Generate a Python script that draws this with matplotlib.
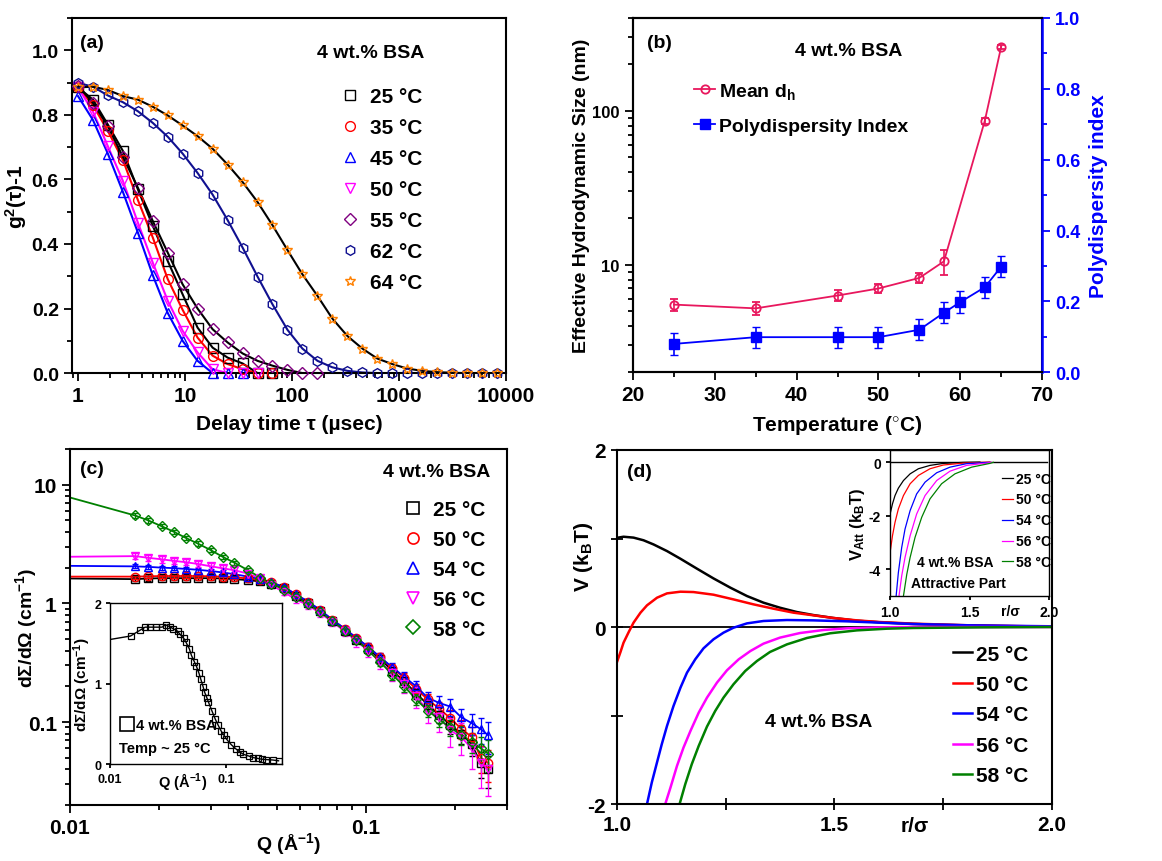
import matplotlib
matplotlib.use('Agg')
import matplotlib.pyplot as plt
from matplotlib.ticker import FixedLocator, FixedFormatter, NullFormatter, MultipleLocator, LogLocator
from matplotlib.lines import Line2D

plt.rcParams['font.family'] = ['Liberation Sans', 'DejaVu Sans']
plt.rcParams['font.weight'] = 'bold'
plt.rcParams['axes.labelweight'] = 'bold'
plt.rcParams['mathtext.fontset'] = 'custom'
plt.rcParams['mathtext.rm'] = 'Liberation Sans:bold'
plt.rcParams['mathtext.it'] = 'Liberation Sans:bold'
plt.rcParams['mathtext.bf'] = 'Liberation Sans:bold'
plt.rcParams['mathtext.default'] = 'rm'
plt.rcParams['axes.linewidth'] = 1.5

# ---------------- (a) DLS correlation functions ----------------
tau = [1, 1.38, 1.9, 2.63, 3.63, 5.0, 6.9, 9.5, 13.1, 18.1, 25, 34.5, 47.6, 65.7, 90.7,
       125, 173, 238, 329, 454, 627, 865, 1194, 1648, 2274, 3139, 4332, 5979, 8251]
g2_25 = [0.885, 0.847, 0.77, 0.688, 0.569, 0.456, 0.347, 0.244, 0.141, 0.079, 0.048, 0.03, 0.0, 0.0]
g2_35 = [0.885, 0.83, 0.75, 0.66, 0.536, 0.42, 0.291, 0.196, 0.11, 0.054, 0.028, 0.012, 0.0, 0.0]
g2_45 = [0.858, 0.784, 0.68, 0.561, 0.435, 0.303, 0.186, 0.1, 0.038, 0.0, 0.0, 0.0]
g2_50 = [0.885, 0.81, 0.703, 0.595, 0.466, 0.342, 0.224, 0.131, 0.064, 0.012, 0.0, 0.0, 0.0]
g2_55 = [0.89, 0.837, 0.765, 0.67, 0.574, 0.471, 0.373, 0.275, 0.2, 0.136, 0.095, 0.061,
         0.038, 0.023, 0.01, 0.0, 0.0]
g2_62 = [0.899, 0.887, 0.86, 0.839, 0.811, 0.775, 0.732, 0.68, 0.62, 0.553, 0.474, 0.389,
         0.299, 0.213, 0.134, 0.076, 0.038, 0.018, 0.007, 0.002, 0, 0, 0, 0, 0, 0, 0, 0, 0]
g2_64 = [0.885, 0.887, 0.877, 0.858, 0.847, 0.825, 0.798, 0.767, 0.734, 0.695, 0.646, 0.592,
         0.53, 0.458, 0.381, 0.306, 0.239, 0.169, 0.115, 0.076, 0.045, 0.028, 0.014, 0.007,
         0.003, 0.001, 0.0, 0.0, 0.0]
labels_a = ['25 °C', '35 °C', '45 °C', '50 °C', '55 °C', '62 °C', '64 °C']

# ---------------- (b) size and PDI vs temperature ----------------
temp_dh = [25, 35, 45, 50, 55, 58, 63, 65]
dh = [5.5, 5.2, 6.3, 7.0, 8.2, 10.5, 86, 260]
dh_err = [0.5, 0.5, 0.5, 0.5, 0.6, 2.0, 4, 8]
temp_pdi = [25, 35, 45, 50, 55, 58, 60, 63, 65]
pdi = [0.08, 0.099, 0.099, 0.099, 0.12, 0.168, 0.198, 0.24, 0.298]
pdi_err = [0.03, 0.03, 0.03, 0.03, 0.03, 0.03, 0.03, 0.03, 0.03]

# ---------------- (c) SANS ----------------
Q = [0.0166, 0.0184, 0.0204, 0.0225, 0.0247, 0.027, 0.03, 0.033, 0.036, 0.04, 0.044, 0.048,
     0.053, 0.058, 0.064, 0.07, 0.077, 0.085, 0.093, 0.102, 0.112, 0.123, 0.135, 0.148,
     0.162, 0.177, 0.193, 0.21, 0.228, 0.245, 0.26]
I_25 = [1.6, 1.62, 1.63, 1.63, 1.63, 1.63, 1.63, 1.62, 1.6, 1.57, 1.53, 1.46, 1.34, 1.16,
        1.0, 0.86, 0.71, 0.59, 0.49, 0.41, 0.34, 0.27, 0.22, 0.175, 0.14, 0.115, 0.095,
        0.08, 0.065, 0.045, 0.04]
I_50 = [1.68, 1.69, 1.7, 1.7, 1.7, 1.7, 1.69, 1.68, 1.66, 1.62, 1.57, 1.5, 1.37, 1.19, 1.03,
        0.88, 0.73, 0.61, 0.51, 0.43, 0.35, 0.285, 0.235, 0.19, 0.155, 0.13, 0.108, 0.088,
        0.075, 0.05, 0.045]
I_54 = [2.05, 2.03, 2.0, 1.98, 1.95, 1.92, 1.87, 1.82, 1.76, 1.68, 1.6, 1.5, 1.37, 1.19,
        1.03, 0.88, 0.73, 0.61, 0.51, 0.43, 0.35, 0.29, 0.24, 0.2, 0.16, 0.145, 0.135,
        0.11, 0.098, 0.087, 0.077]
I_56 = [2.5, 2.42, 2.35, 2.28, 2.22, 2.15, 2.05, 1.97, 1.9, 1.78, 1.62, 1.42, 1.24, 1.08,
        0.96, 0.83, 0.7, 0.58, 0.48, 0.4, 0.32, 0.26, 0.21, 0.165, 0.125, 0.11, 0.085,
        0.075, 0.06, 0.045, 0.04]
I_58 = [5.5, 5.0, 4.47, 4.0, 3.55, 3.2, 2.8, 2.45, 2.2, 1.9, 1.65, 1.47, 1.3, 1.13, 0.98,
        0.85, 0.71, 0.59, 0.49, 0.4, 0.32, 0.25, 0.2, 0.155, 0.125, 0.105, 0.09, 0.078,
        0.068, 0.06, 0.054]
# fitted curves start at Q = 0.01
Q_fit0 = 0.01
I_fit0 = [1.62, 1.68, 2.07, 2.47, 7.8]
# relative errors (56 C run is noisier)
rel_err = [0.04, 0.04, 0.04, 0.04, 0.04, 0.04, 0.04, 0.04, 0.04, 0.04, 0.04, 0.04, 0.04,
           0.04, 0.05, 0.05, 0.05, 0.06, 0.06, 0.07, 0.08, 0.09, 0.1, 0.11, 0.12, 0.14,
           0.16, 0.18, 0.2, 0.25, 0.3]
rel_err_56 = [0.06, 0.06, 0.06, 0.06, 0.06, 0.06, 0.06, 0.06, 0.06, 0.06, 0.06, 0.06, 0.06,
              0.06, 0.07, 0.07, 0.08, 0.09, 0.1, 0.11, 0.13, 0.15, 0.17, 0.2, 0.22, 0.25,
              0.28, 0.3, 0.33, 0.38, 0.4]
labels_c = ['25 °C', '50 °C', '54 °C', '56 °C', '58 °C']

# inset: 25 C on linear scale
Q_in = [0.0103, 0.015, 0.018, 0.02, 0.022, 0.025, 0.028, 0.03, 0.033, 0.035, 0.038, 0.04,
        0.043, 0.045, 0.048, 0.05, 0.053, 0.055, 0.058, 0.06, 0.063, 0.065, 0.068, 0.07,
        0.075, 0.08, 0.085, 0.09, 0.095, 0.1, 0.11, 0.12, 0.13, 0.14, 0.155, 0.17, 0.185,
        0.2, 0.22, 0.25, 0.28]
I_in = [1.55, 1.59, 1.66, 1.7, 1.7, 1.7, 1.7, 1.73, 1.7, 1.68, 1.65, 1.61, 1.56, 1.51,
        1.43, 1.35, 1.27, 1.22, 1.13, 1.06, 0.96, 0.89, 0.82, 0.77, 0.66, 0.56, 0.48, 0.41,
        0.36, 0.31, 0.24, 0.19, 0.15, 0.12, 0.1, 0.08, 0.07, 0.06, 0.055, 0.05, 0.04]

# ---------------- (d) interaction potentials ----------------
r_25 = [1.0, 1.015, 1.038, 1.061, 1.084, 1.115, 1.146, 1.184, 1.222, 1.261, 1.299, 1.337,
        1.375, 1.414, 1.452, 1.498, 1.552, 1.605, 1.682, 1.759, 1.874, 2.0]
v_25 = [1.008, 1.02, 1.01, 0.98, 0.933, 0.858, 0.771, 0.659, 0.549, 0.444, 0.35, 0.275,
        0.218, 0.169, 0.135, 0.102, 0.071, 0.053, 0.034, 0.023, 0.011, 0.004]
r_50 = [1.0, 1.008, 1.015, 1.027, 1.038, 1.054, 1.069, 1.092, 1.115, 1.146, 1.176, 1.222,
        1.268, 1.314, 1.36, 1.406, 1.452, 1.498, 1.552, 1.605, 1.682, 1.812, 2.0]
v_50 = [-0.395, -0.282, -0.177, -0.056, 0.049, 0.162, 0.245, 0.331, 0.38, 0.399, 0.395,
        0.365, 0.312, 0.256, 0.207, 0.162, 0.132, 0.102, 0.075, 0.056, 0.038, 0.019, 0.004]
r_54 = [1.069, 1.08, 1.092, 1.103, 1.115, 1.13, 1.146, 1.161, 1.18, 1.199, 1.222, 1.245,
        1.268, 1.299, 1.337, 1.391, 1.452, 1.529, 1.605, 1.682, 1.812, 2.0]
v_54 = [-2.0, -1.757, -1.53, -1.324, -1.118, -0.892, -0.685, -0.516, -0.365, -0.241, -0.139,
        -0.064, -0.008, 0.041, 0.068, 0.079, 0.075, 0.064, 0.049, 0.034, 0.019, 0.008]
r_56 = [1.111, 1.123, 1.138, 1.153, 1.169, 1.188, 1.207, 1.23, 1.253, 1.28, 1.307, 1.337,
        1.375, 1.421, 1.475, 1.529, 1.605, 1.682, 2.0]
v_56 = [-2.0, -1.814, -1.569, -1.362, -1.174, -0.967, -0.798, -0.628, -0.489, -0.365,
        -0.271, -0.188, -0.12, -0.068, -0.034, -0.015, -0.004, 0.0, 0.0]
r_58 = [1.144, 1.157, 1.172, 1.188, 1.207, 1.226, 1.245, 1.268, 1.295, 1.322, 1.352, 1.391,
        1.437, 1.49, 1.552, 1.621, 1.682, 1.835, 2.0]
v_58 = [-2.0, -1.776, -1.55, -1.343, -1.125, -0.948, -0.798, -0.647, -0.497, -0.384, -0.282,
        -0.196, -0.124, -0.071, -0.038, -0.019, -0.011, -0.004, 0.0]

# attractive part (inset)
ra_25 = [1.0, 1.015, 1.031, 1.052, 1.084, 1.126, 1.178, 1.251, 1.335, 1.46, 1.565]
va_25 = [-1.94, -1.56, -1.25, -0.975, -0.69, -0.44, -0.25, -0.125, -0.05, -0.012, 0.0]
ra_50 = [1.0, 1.015, 1.031, 1.052, 1.084, 1.126, 1.178, 1.251, 1.335, 1.46, 1.628]
va_50 = [-3.375, -2.75, -2.25, -1.75, -1.25, -0.81, -0.5, -0.25, -0.11, -0.04, 0.0]
ra_54 = [1.038, 1.052, 1.073, 1.094, 1.126, 1.167, 1.22, 1.293, 1.377, 1.481, 1.628]
va_54 = [-5.0, -4.125, -3.19, -2.5, -1.81, -1.19, -0.75, -0.4, -0.19, -0.06, -0.01]
ra_56 = [1.056, 1.073, 1.094, 1.126, 1.167, 1.22, 1.293, 1.377, 1.481, 1.607, 1.638]
va_56 = [-5.0, -4.25, -3.56, -2.75, -1.94, -1.25, -0.69, -0.34, -0.125, -0.04, -0.01]
ra_58 = [1.084, 1.105, 1.126, 1.157, 1.199, 1.251, 1.324, 1.408, 1.513, 1.628, 1.649]
va_58 = [-5.0, -4.19, -3.56, -2.81, -2.06, -1.375, -0.81, -0.44, -0.19, -0.05, -0.01]
labels_d = ['25 °C', '50 °C', '54 °C', '56 °C', '58 °C']
colors_d = ['black', 'red', 'blue', 'magenta', 'green']


def ticks(ax, size=15, direction='out', major=6, minor=3.5):
    ax.tick_params(which='both', direction=direction, width=1.3, labelsize=size,
                   top=False, right=False)
    ax.tick_params(which='major', length=major)
    ax.tick_params(which='minor', length=minor)


fig = plt.figure(figsize=(11.62, 8.62), dpi=100)

# ===== panel (a) =====
ax = fig.add_axes([0.062, 0.566, 0.3735, 0.412])
set_a = [(g2_25, 's', 'black', 'black'), (g2_35, 'o', 'red', 'red'),
         (g2_45, '^', 'blue', 'blue'), (g2_50, 'v', 'magenta', 'magenta'),
         (g2_55, 'D', '#800080', 'black'), (g2_62, 'h', '#101090', '#101090'),
         (g2_64, '*', '#FF8000', 'black')]
for (g, m, c, lc), lab in zip(set_a, labels_a):
    t = tau[:len(g)]
    ax.plot(t, g, '-', color=lc, lw=1.5, zorder=2)
    ax.plot(t, g, ls='none', marker=m, mfc='none', mec=c, mew=1.0,
            ms=6 if m == 'D' else 7, label=lab, clip_on=False, zorder=3)
ax.set_xscale('log')
ax.set_xlim(0.88, 10000)
ax.set_ylim(0, 1.1)
ax.xaxis.set_major_locator(FixedLocator([1, 10, 100, 1000, 10000]))
ax.xaxis.set_major_formatter(FixedFormatter(['1', '10', '100', '1000', '10000']))
ax.xaxis.set_minor_locator(LogLocator(base=10, subs=range(2, 10), numticks=20))
ax.xaxis.set_minor_formatter(NullFormatter())
ax.yaxis.set_major_locator(MultipleLocator(0.2))
ax.yaxis.set_minor_locator(MultipleLocator(0.1))
ticks(ax)
ax.tick_params(axis='y', labelsize=14)
ax.set_xlabel('Delay time τ (µsec)', fontsize=15, labelpad=6)
ax.set_ylabel('g$^{2}$(τ)-1', fontsize=15)
ax.yaxis.set_label_coords(-0.1, 0.5)
ax.text(0.018, 0.932, '(a)', transform=ax.transAxes, fontsize=14, va='center')
ax.text(0.565, 0.904, '4 wt.% BSA', transform=ax.transAxes, fontsize=14, va='center')
ax.legend(loc='upper left', bbox_to_anchor=(0.6, 0.835), frameon=False, fontsize=15,
          handlelength=0.7, handletextpad=0.6, labelspacing=0.58, borderpad=0)

# ===== panel (b) =====
axb = fig.add_axes([0.5448, 0.567, 0.352, 0.411])
axb2 = axb.twinx()
axb.errorbar(temp_dh, dh, yerr=dh_err, color='#E8175D', marker='o', mfc='none',
             mec='#E8175D', ms=6, mew=1.3, lw=1.3, capsize=3, elinewidth=1.2)
axb2.errorbar(temp_pdi, pdi, yerr=pdi_err, color='blue', marker='s', ms=7, lw=1.3,
              capsize=3, elinewidth=1.2)
axb.set_yscale('log')
axb.set_ylim(2, 400)
axb.set_xlim(20, 70)
axb2.set_ylim(0, 1.0)
axb.xaxis.set_major_locator(MultipleLocator(10))
axb.xaxis.set_minor_locator(MultipleLocator(5))
axb.yaxis.set_major_locator(FixedLocator([10, 100]))
axb.yaxis.set_major_formatter(FixedFormatter(['10', '100']))
axb.yaxis.set_minor_locator(LogLocator(base=10, subs=range(2, 10), numticks=20))
axb.yaxis.set_minor_formatter(NullFormatter())
ticks(axb)
axb.tick_params(axis='y', labelsize=12)
axb2.yaxis.set_major_locator(MultipleLocator(0.2))
axb2.yaxis.set_minor_locator(MultipleLocator(0.1))
axb2.tick_params(which='both', direction='out', width=1.3, labelsize=13, colors='blue',
                 left=False, right=True)
axb2.tick_params(which='major', length=6)
axb2.tick_params(which='minor', length=3.5)
axb2.spines['right'].set_color('blue')
axb2.spines['right'].set_linewidth(1.8)
axb.set_xlabel('Temperature ($^{\\circ}$C)', fontsize=15, labelpad=6)
axb.set_ylabel('Effective Hydrodynamic Size (nm)', fontsize=14, labelpad=2)
axb2.set_ylabel('Polydispersity index', fontsize=15, color='blue', labelpad=6)
axb.text(0.034, 0.932, '(b)', transform=axb.transAxes, fontsize=14, va='center')
axb.text(0.396, 0.907, '4 wt.% BSA', transform=axb.transAxes, fontsize=14, va='center')
leg_b = [Line2D([], [], color='#E8175D', lw=1.3, marker='o', mfc='none', mec='#E8175D',
                ms=6, mew=1.3),
         Line2D([], [], color='blue', lw=1.3, marker='s', ms=7)]
axb2.legend(leg_b, ['Mean d$_\\mathrm{h}$', 'Polydispersity Index'], loc='upper left',
            bbox_to_anchor=(0.125, 0.85), frameon=False, fontsize=14, handlelength=1.1,
            handletextpad=0.2, labelspacing=0.85, borderpad=0)

# ===== panel (c) =====
axc = fig.add_axes([0.0602, 0.065, 0.376, 0.413])
set_c = [(I_25, 's', 'black', rel_err), (I_50, 'o', 'red', rel_err),
         (I_54, '^', 'blue', rel_err), (I_56, 'v', 'magenta', rel_err_56),
         (I_58, 'D', 'green', rel_err)]
handles_c = []
for (I, m, c, re), i0 in zip(set_c, I_fit0):
    err = [v * e for v, e in zip(I, re)]
    axc.errorbar(Q, I, yerr=err, ls='none', marker=m, mfc='none', mec=c, ecolor=c,
                 ms=5 if m == 'D' else 6, mew=1.0, elinewidth=0.9, capsize=2)
    axc.plot([Q_fit0] + Q, [i0] + I, '-', color=c, lw=1.3)
    handles_c.append(Line2D([], [], ls='none', marker=m, mfc='none', mec=c, mew=1.2,
                            ms=7 if m == 'D' else 8))
axc.set_xscale('log')
axc.set_yscale('log')
axc.set_xlim(0.01, 0.3)
axc.set_ylim(0.02, 20)
axc.xaxis.set_major_locator(FixedLocator([0.01, 0.1]))
axc.xaxis.set_major_formatter(FixedFormatter(['0.01', '0.1']))
axc.xaxis.set_minor_locator(LogLocator(base=10, subs=range(2, 10), numticks=20))
axc.xaxis.set_minor_formatter(NullFormatter())
axc.yaxis.set_major_locator(FixedLocator([0.1, 1, 10]))
axc.yaxis.set_major_formatter(FixedFormatter(['0.1', '1', '10']))
axc.yaxis.set_minor_locator(LogLocator(base=10, subs=range(2, 10), numticks=20))
axc.yaxis.set_minor_formatter(NullFormatter())
ticks(axc)
axc.text(0.5, -0.108, 'Q (Å$^{-1}$)', transform=axc.transAxes, fontsize=14,
         ha='center', va='center')
axc.set_ylabel('dΣ/dΩ (cm$^{-1}$)', fontsize=14)
axc.yaxis.set_label_coords(-0.07, 0.5)
axc.text(0.023, 0.944, '(c)', transform=axc.transAxes, fontsize=14, va='center')
axc.text(0.716, 0.938, '4 wt.% BSA', transform=axc.transAxes, fontsize=14, va='center')
axc.legend(handles_c, labels_c, loc='upper left', bbox_to_anchor=(0.745, 0.885),
           frameon=False, fontsize=15, handlelength=0.7, handletextpad=0.6,
           labelspacing=0.52, borderpad=0)

# inset of (c)
axi = fig.add_axes([0.0947, 0.1125, 0.148, 0.1868])
axi.plot(Q_in, I_in, '-', color='black', lw=1.0)
axi.plot(Q_in[1:], I_in[1:], ls='none', marker='s', mfc='none', mec='black', ms=4, mew=0.9)
axi.set_xscale('log')
axi.set_xlim(0.01, 0.3)
axi.set_ylim(0, 2)
axi.xaxis.set_major_locator(FixedLocator([0.01, 0.1]))
axi.xaxis.set_major_formatter(FixedFormatter(['0.01', '0.1']))
axi.xaxis.set_minor_locator(FixedLocator([]))
axi.yaxis.set_major_locator(MultipleLocator(1))
ticks(axi, size=9, major=3)
for s in axi.spines.values():
    s.set_linewidth(1.0)
axi.set_ylabel('dΣ/dΩ (cm$^{-1}$)', fontsize=11, labelpad=1)
axi.text(0.42, -0.1, 'Q (Å$^{-1}$)', transform=axi.transAxes, fontsize=10.5,
         ha='center', va='center')
axi.legend([Line2D([], [], ls='none', marker='s', mfc='none', mec='black', ms=10, mew=1.2)],
           ['4 wt.% BSA'], loc='upper left', bbox_to_anchor=(0.03, 0.33), frameon=False,
           fontsize=10.5, handlelength=0.6, handletextpad=0.3, borderpad=0)
axi.text(0.05, 0.1, 'Temp ~ 25 °C', transform=axi.transAxes, fontsize=10.5, va='center')

# ===== panel (d) =====
axd = fig.add_axes([0.531, 0.0661, 0.374, 0.4107])
for r, v, c, lab in zip([r_25, r_50, r_54, r_56, r_58], [v_25, v_50, v_54, v_56, v_58],
                        colors_d, labels_d):
    axd.plot(r, v, '-', color=c, lw=1.8, label=lab)
axd.axhline(0, color='black', lw=1.3, zorder=1)
axd.set_xlim(1.0, 2.0)
axd.set_ylim(-2, 2)
axd.xaxis.set_major_locator(FixedLocator([1.0, 1.5, 2.0]))
axd.xaxis.set_major_formatter(FixedFormatter(['1.0', '1.5', '2.0']))
axd.xaxis.set_minor_locator(FixedLocator([1.25, 1.75]))
axd.yaxis.set_major_locator(FixedLocator([-2, 0, 2]))
axd.yaxis.set_major_formatter(FixedFormatter(['-2', '0', '2']))
axd.yaxis.set_minor_locator(FixedLocator([-1, 1]))
ticks(axd, direction='inout', major=9, minor=9)
axd.set_ylabel('V (k$_\\mathrm{B}$T)', fontsize=15)
axd.yaxis.set_label_coords(-0.05, 0.70)
axd.text(0.685, -0.06, 'r/σ', transform=axd.transAxes, fontsize=15, ha='center', va='center')
axd.text(0.023, 0.94, '(d)', transform=axd.transAxes, fontsize=14, va='center')
axd.text(0.34, 0.232, '4 wt.% BSA', transform=axd.transAxes, fontsize=14, va='center')
axd.legend(loc='upper left', bbox_to_anchor=(0.75, 0.48), frameon=False, fontsize=15,
           handlelength=0.9, handletextpad=0.2, labelspacing=0.55, borderpad=0)

# inset of (d)
axj = fig.add_axes([0.766, 0.3074, 0.1368, 0.1694])
for r, v, c, lab in zip([ra_25, ra_50, ra_54, ra_56, ra_58], [va_25, va_50, va_54, va_56, va_58],
                        colors_d, labels_d):
    axj.plot(r, v, '-', color=c, lw=0.9, label=lab)
axj.plot([1.0, 1.99], [0, 0], '-', color='black', lw=1.0, zorder=1)
axj.set_xlim(1.0, 2.0)
axj.set_ylim(-5, 0.45)
axj.xaxis.set_major_locator(FixedLocator([1.0, 1.5, 2.0]))
axj.xaxis.set_major_formatter(FixedFormatter(['1.0', '1.5', '2.0']))
axj.yaxis.set_major_locator(FixedLocator([-4, -2, 0]))
axj.yaxis.set_major_formatter(FixedFormatter(['-4', '-2', '0']))
ticks(axj, size=10, major=3)
for s in axj.spines.values():
    s.set_linewidth(1.0)
axj.set_ylabel('V$_\\mathrm{Att}$ (k$_\\mathrm{B}$T)', fontsize=12, labelpad=1)
axj.text(0.76, -0.1, 'r/σ', transform=axj.transAxes, fontsize=10, ha='center', va='center')
axj.text(0.17, 0.233, '4 wt.% BSA', transform=axj.transAxes, fontsize=10, va='center')
axj.text(0.132, 0.09, 'Attractive Part', transform=axj.transAxes, fontsize=10, va='center')
axj.legend(loc='upper left', bbox_to_anchor=(0.66, 0.9), frameon=False, fontsize=10,
           handlelength=0.8, handletextpad=0.2, labelspacing=0.5, borderpad=0)

fig.savefig('out.png', dpi=100)
